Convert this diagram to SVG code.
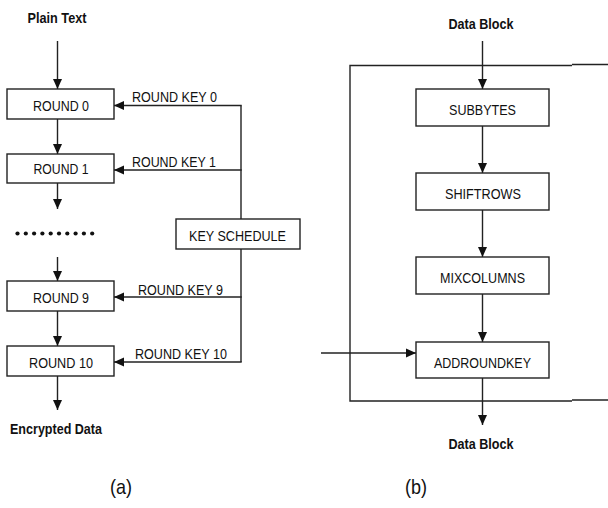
<svg xmlns="http://www.w3.org/2000/svg" width="608" height="508" viewBox="0 0 608 508">
<style>
.box{fill:#fff;stroke:#222;stroke-width:1.4}
.ln{fill:none;stroke:#222;stroke-width:1.4}
.t{font-family:"Liberation Sans",Arial,sans-serif;font-size:15px;fill:#111;text-anchor:middle}
.b{font-weight:bold}
.cap{font-family:"Liberation Sans",Arial,sans-serif;font-size:21px;fill:#111;text-anchor:middle}
</style>
<defs>
<marker id="ah" viewBox="0 0 10 10" refX="10" refY="5" markerWidth="10" markerHeight="10" markerUnits="userSpaceOnUse" orient="auto">
<path d="M0,0.5 L10,5 L0,9.5 Z" fill="#111"/>
</marker>
</defs>
<rect width="608" height="508" fill="#fff"/>

<g id="connectors">
<line class="ln" x1="57.5" y1="41" x2="57.5" y2="89" marker-end="url(#ah)"/>
<line class="ln" x1="57.5" y1="119" x2="57.5" y2="154" marker-end="url(#ah)"/>
<line class="ln" x1="57.5" y1="183" x2="57.5" y2="209" marker-end="url(#ah)"/>
<line class="ln" x1="57.5" y1="257" x2="57.5" y2="281" marker-end="url(#ah)"/>
<line class="ln" x1="57.5" y1="311" x2="57.5" y2="346" marker-end="url(#ah)"/>
<line class="ln" x1="57.5" y1="376" x2="57.5" y2="410" marker-end="url(#ah)"/>
<line class="ln" x1="241" y1="105.5" x2="241" y2="219"/>
<line class="ln" x1="241" y1="249" x2="241" y2="362"/>
<line class="ln" x1="241.7" y1="105.5" x2="114" y2="105.5" marker-end="url(#ah)"/>
<line class="ln" x1="241.7" y1="170" x2="114" y2="170" marker-end="url(#ah)"/>
<line class="ln" x1="241.7" y1="297" x2="114" y2="297" marker-end="url(#ah)"/>
<line class="ln" x1="241.7" y1="362" x2="114" y2="362" marker-end="url(#ah)"/>
<line class="ln" x1="482.5" y1="41" x2="482.5" y2="89" marker-end="url(#ah)"/>
<line class="ln" x1="482.5" y1="126" x2="482.5" y2="173" marker-end="url(#ah)"/>
<line class="ln" x1="482.5" y1="210" x2="482.5" y2="257" marker-end="url(#ah)"/>
<line class="ln" x1="482.5" y1="294" x2="482.5" y2="342" marker-end="url(#ah)"/>
<line class="ln" x1="482.5" y1="378" x2="482.5" y2="425" marker-end="url(#ah)"/>
<line class="ln" x1="321" y1="353" x2="416" y2="353" marker-end="url(#ah)"/>
<path class="ln" d="M572,65.5 H350 V401 H572"/>
<line class="ln" x1="572" y1="64.5" x2="608" y2="64.5"/>
<line class="ln" x1="572" y1="400" x2="608" y2="400"/>
</g>

<g id="plain-text"><text class="t b" x="57" y="23" textLength="59" lengthAdjust="spacingAndGlyphs">Plain Text</text></g>
<g id="round0"><rect class="box" x="7" y="89" width="107" height="30"/><text class="t" x="61" y="110.5" textLength="56" lengthAdjust="spacingAndGlyphs">ROUND 0</text></g>
<g id="round1"><rect class="box" x="7" y="154" width="107" height="29"/><text class="t" x="61" y="173.5" textLength="55" lengthAdjust="spacingAndGlyphs">ROUND 1</text></g>
<g id="dots" fill="#111">
<circle cx="17.5" cy="233.5" r="2.1"/><circle cx="25.8" cy="233.5" r="2.1"/><circle cx="34.1" cy="233.5" r="2.1"/><circle cx="42.4" cy="233.5" r="2.1"/><circle cx="50.7" cy="233.5" r="2.1"/><circle cx="59" cy="233.5" r="2.1"/><circle cx="67.3" cy="233.5" r="2.1"/><circle cx="75.6" cy="233.5" r="2.1"/><circle cx="83.9" cy="233.5" r="2.1"/><circle cx="92.2" cy="233.5" r="2.1"/>
</g>
<g id="round9"><rect class="box" x="7" y="281" width="107" height="30"/><text class="t" x="61" y="302.5" textLength="56" lengthAdjust="spacingAndGlyphs">ROUND 9</text></g>
<g id="round10"><rect class="box" x="7" y="346" width="107" height="30"/><text class="t" x="61" y="367.5" textLength="64" lengthAdjust="spacingAndGlyphs">ROUND 10</text></g>
<g id="encrypted-data"><text class="t b" x="56" y="433.5" textLength="92" lengthAdjust="spacingAndGlyphs">Encrypted Data</text></g>
<g id="key-schedule"><rect class="box" x="176" y="219" width="124" height="30"/><text class="t" x="237.5" y="240.5" textLength="97" lengthAdjust="spacingAndGlyphs">KEY SCHEDULE</text></g>
<g id="key-labels">
<text class="t" x="174.5" y="101.5" textLength="85" lengthAdjust="spacingAndGlyphs">ROUND KEY 0</text>
<text class="t" x="174" y="166.5" textLength="84" lengthAdjust="spacingAndGlyphs">ROUND KEY 1</text>
<text class="t" x="180.5" y="294.5" textLength="85" lengthAdjust="spacingAndGlyphs">ROUND KEY 9</text>
<text class="t" x="181" y="358.5" textLength="92" lengthAdjust="spacingAndGlyphs">ROUND KEY 10</text>
</g>
<g id="data-block-in"><text class="t b" x="481" y="28.5" textLength="65" lengthAdjust="spacingAndGlyphs">Data Block</text></g>
<g id="subbytes"><rect class="box" x="416" y="89" width="133" height="37"/><text class="t" x="482.5" y="114.5" textLength="67" lengthAdjust="spacingAndGlyphs">SUBBYTES</text></g>
<g id="shiftrows"><rect class="box" x="416" y="173" width="133" height="37"/><text class="t" x="483" y="198.5" textLength="76" lengthAdjust="spacingAndGlyphs">SHIFTROWS</text></g>
<g id="mixcolumns"><rect class="box" x="416" y="257" width="133" height="37"/><text class="t" x="482.5" y="282.5" textLength="85" lengthAdjust="spacingAndGlyphs">MIXCOLUMNS</text></g>
<g id="addroundkey"><rect class="box" x="416" y="342" width="133" height="36"/><text class="t" x="482.5" y="367.5" textLength="97" lengthAdjust="spacingAndGlyphs">ADDROUNDKEY</text></g>
<g id="data-block-out"><text class="t b" x="481" y="448.5" textLength="65" lengthAdjust="spacingAndGlyphs">Data Block</text></g>
<g id="captions">
<text class="cap" x="121" y="494" textLength="22" lengthAdjust="spacingAndGlyphs">(a)</text>
<text class="cap" x="416" y="494" textLength="22" lengthAdjust="spacingAndGlyphs">(b)</text>
</g>
</svg>
